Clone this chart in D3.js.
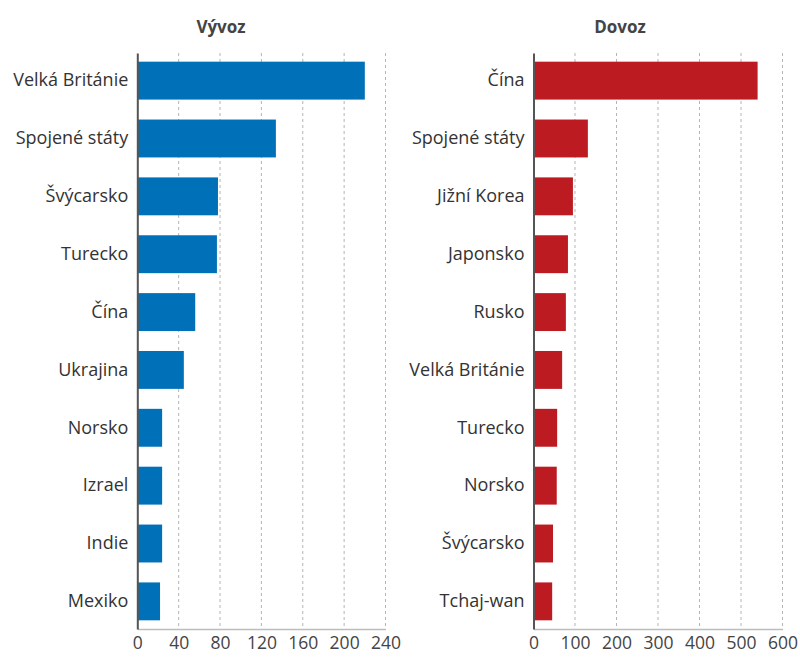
<!DOCTYPE html>
<html><head><meta charset="utf-8">
<script src="https://cdn.jsdelivr.net/npm/d3@7"></script>
<style>body{margin:0;background:#fff;}svg{display:block;font-family:"Open Sans",sans-serif;}</style>
</head><body>
<svg id="c" width="800" height="657"></svg>
<script>
const exportCountries = ["Velká Británie","Spojené státy","Švýcarsko","Turecko","Čína","Ukrajina","Norsko","Izrael","Indie","Mexiko"];
const exportValues = [220,134,78,77,56,45,24,24,24,22];
const importCountries = ["Čína","Spojené státy","Jižní Korea","Japonsko","Rusko","Velká Británie","Turecko","Norsko","Švýcarsko","Tchaj-wan"];
const importValues = [540,131,95,83,78,69,57,56,47,45];
const exportTicks = [0,40,80,120,160,200,240];
const importTicks = [0,100,200,300,400,500,600];
const titles = ["Vývoz","Dovoz"];
const colors = ["#0070b8","#bc1b21"];

const svg = d3.select("#c");
const plotTop = 53, plotBottom = 629;

function panel(x0, x1, cats, vals, ticks, max, title, color, titleX) {
  const g = svg.append("g");
  const x = d3.scaleLinear().domain([0, max]).range([x0, x1]);
  const y = d3.scaleBand().domain(cats).range([plotTop, plotBottom]).paddingInner(0.345).paddingOuter(0.15);
  g.selectAll(".grid").data(ticks.slice(1)).join("line")
    .attr("x1", d => x(d)).attr("x2", d => x(d))
    .attr("y1", plotTop).attr("y2", plotBottom)
    .attr("stroke", "#b5b5b5").attr("stroke-width", 1).attr("stroke-dasharray", "3,3");
  g.selectAll(".bar").data(cats).join("rect")
    .attr("x", x(0)).attr("y", d => y(d))
    .attr("width", (d, i) => x(vals[i]) - x(0))
    .attr("height", y.bandwidth()).attr("fill", color);
  const ax = g.append("g").attr("transform", `translate(0,${plotBottom})`)
    .call(d3.axisBottom(x).tickValues(ticks).tickSize(0).tickPadding(8));
  ax.select(".domain").attr("stroke", "#bdbdbd").attr("stroke-width", 1.5);
  ax.selectAll("text").attr("font-family", "Open Sans").attr("font-size", 17.5).attr("fill", "#444");
  const ay = g.append("g").attr("transform", `translate(${x0},0)`)
    .call(d3.axisLeft(y).tickSize(0).tickPadding(9));
  ay.select(".domain").attr("stroke", "#555").attr("stroke-width", 2);
  ay.selectAll("text").attr("font-family", "Open Sans").attr("font-size", 18).attr("fill", "#333");
  g.append("text").attr("x", titleX).attr("y", 33).attr("text-anchor", "middle")
    .attr("font-weight", "bold").attr("font-size", 17).attr("fill", "#444").text(title);
}

panel(137.3, 385.5, exportCountries, exportValues, exportTicks, 240, titles[0], colors[0], 221);
panel(533.5, 782.5, importCountries, importValues, importTicks, 600, titles[1], colors[1], 620);
</script>
</body></html>
